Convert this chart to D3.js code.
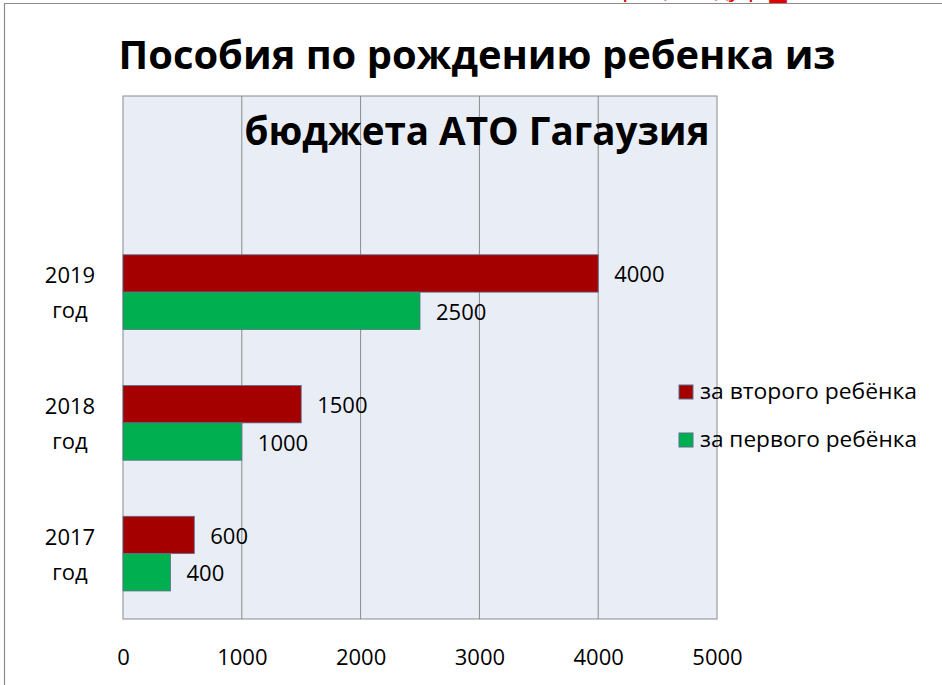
<!DOCTYPE html>
<html>
<head>
<meta charset="utf-8">
<script src="https://cdn.jsdelivr.net/npm/d3@7"></script>
<style>
  html, body { margin: 0; padding: 0; background: #fff; }
  svg { display: block; font-family: "Open Sans", "Noto Sans", sans-serif; }
</style>
</head>
<body>
<div id="chart"></div>
<script>
// данные — категории сверху вниз (верхняя строка пустая, как в исходной диаграмме)
const categories = ["", "2019 год", "2018 год", "2017 год"];
const secondChild = [null, 4000, 1500, 600];   // за второго ребёнка
const firstChild  = [null, 2500, 1000, 400];   // за первого ребёнка
const seriesNames = ["за второго ребёнка", "за первого ребёнка"];
const seriesColors = ["#A50000", "#00B050"];
const xTicks = [0, 1000, 2000, 3000, 4000, 5000];
const titleLines = ["Пособия по рождению ребенка из", "бюджета АТО Гагаузия"];

const W = 942, H = 685;
const plot = { left: 123, right: 717, top: 96, bottom: 619 };

const svg = d3.select("#chart").append("svg")
  .attr("width", W)
  .attr("height", H);

// рамка диаграммы (обрезана сверху и справа)
svg.append("path")
  .attr("d", `M4.5,${H} V3.5 H${W}`)
  .attr("fill", "none")
  .attr("stroke", "#8c8c8c")
  .attr("stroke-width", 1.2);

// обрезанная красная надпись сверху (видны только хвосты букв)
svg.append("text")
  .attr("x", 622).attr("y", -4)
  .attr("fill", "#e00000")
  .style("font-size", "24px")
  .attr("textLength", 165)
  .attr("lengthAdjust", "spacingAndGlyphs")
  .text("рецепт ду р ▄");

const x = d3.scaleLinear()
  .domain([0, 5000])
  .range([plot.left, plot.right]);

const y = d3.scaleBand()
  .domain(categories)
  .range([plot.top, plot.bottom]);

const inner = d3.scaleBand()
  .domain([0, 1])
  .range([0, y.bandwidth()])
  .paddingInner(0)
  .paddingOuter(0.75);

// фон области построения
svg.append("rect")
  .attr("x", plot.left).attr("y", plot.top)
  .attr("width", plot.right - plot.left)
  .attr("height", plot.bottom - plot.top)
  .attr("fill", "#E9EDF6");

// сетка
svg.append("g")
  .selectAll("line")
  .data(xTicks.slice(1, -1))
  .join("line")
    .attr("x1", d => x(d)).attr("x2", d => x(d))
    .attr("y1", plot.top).attr("y2", plot.bottom)
    .attr("stroke", "#8a8a8a")
    .attr("stroke-width", 1);

svg.append("rect")
  .attr("x", plot.left).attr("y", plot.top)
  .attr("width", plot.right - plot.left)
  .attr("height", plot.bottom - plot.top)
  .attr("fill", "none")
  .attr("stroke", "#8a8a8a")
  .attr("stroke-width", 1);

// столбцы
const series = [secondChild, firstChild];
series.forEach((vals, si) => {
  const rows = categories.map((c, i) => ({ cat: c, v: vals[i] })).filter(d => d.v != null);
  const g = svg.append("g");
  g.selectAll("rect")
    .data(rows)
    .join("rect")
      .attr("x", x(0))
      .attr("y", d => y(d.cat) + inner(si))
      .attr("width", d => x(d.v) - x(0))
      .attr("height", inner.bandwidth())
      .attr("fill", seriesColors[si])
      .attr("stroke", "#5b6f8c")
      .attr("stroke-width", 0.8);
  g.selectAll("text")
    .data(rows)
    .join("text")
      .attr("x", d => x(d.v) + 16)
      .attr("y", d => y(d.cat) + inner(si) + inner.bandwidth() / 2 + 9)
      .attr("fill", "#000")
      .style("font-size", "22px")
      .text(d => d.v);
});

// ось X
const xAxis = svg.append("g")
  .attr("transform", `translate(0,${plot.bottom})`)
  .call(d3.axisBottom(x).tickValues(xTicks).tickFormat(d3.format("d")).tickSize(0).tickPadding(0));
xAxis.select(".domain").remove();
xAxis.selectAll("text")
  .attr("y", 46)
  .attr("dy", 0)
  .attr("fill", "#000")
  .style("font-family", "'Open Sans', sans-serif")
  .style("font-size", "22px");

// ось Y — подписи в две строки
const yAxis = svg.append("g")
  .attr("transform", `translate(${plot.left},0)`)
  .call(d3.axisLeft(y).tickSize(0).tickFormat(""));
yAxis.select(".domain").remove();
yAxis.selectAll(".tick text").each(function(d) {
  const t = d3.select(this);
  const parts = d.split(" ").filter(s => s);
  t.attr("x", -53).attr("dy", 0).attr("y", 0)
    .attr("text-anchor", "middle")
    .attr("fill", "#000")
    .style("font-family", "'Open Sans', sans-serif")
    .style("font-size", "22px");
  t.selectAll("tspan")
    .data(parts)
    .join("tspan")
      .attr("x", -53)
      .attr("y", (p, i) => -9 + i * 35)
      .text(p => p);
});

// легенда
const legend = svg.append("g");
seriesNames.forEach((name, i) => {
  const ly = 385 + i * 48;
  legend.append("rect")
    .attr("x", 679).attr("y", ly)
    .attr("width", 14).attr("height", 14)
    .attr("fill", seriesColors[i])
    .attr("stroke", "#5b6f8c")
    .attr("stroke-width", 1);
  legend.append("text")
    .attr("x", 700).attr("y", ly + 14)
    .attr("fill", "#000")
    .style("font-size", "22px")
    .attr("textLength", 217)
    .attr("lengthAdjust", "spacingAndGlyphs")
    .text(name);
});

// заголовок
svg.append("g")
  .selectAll("text")
  .data(titleLines)
  .join("text")
    .attr("x", 477)
    .attr("y", (d, i) => [69, 145][i])
    .attr("text-anchor", "middle")
    .attr("fill", "#000")
    .style("font-size", "40px")
    .style("font-weight", "bold")
    .attr("textLength", (d, i) => [717, 465][i])
    .attr("lengthAdjust", "spacingAndGlyphs")
    .text(d => d);
</script>
</body>
</html>
